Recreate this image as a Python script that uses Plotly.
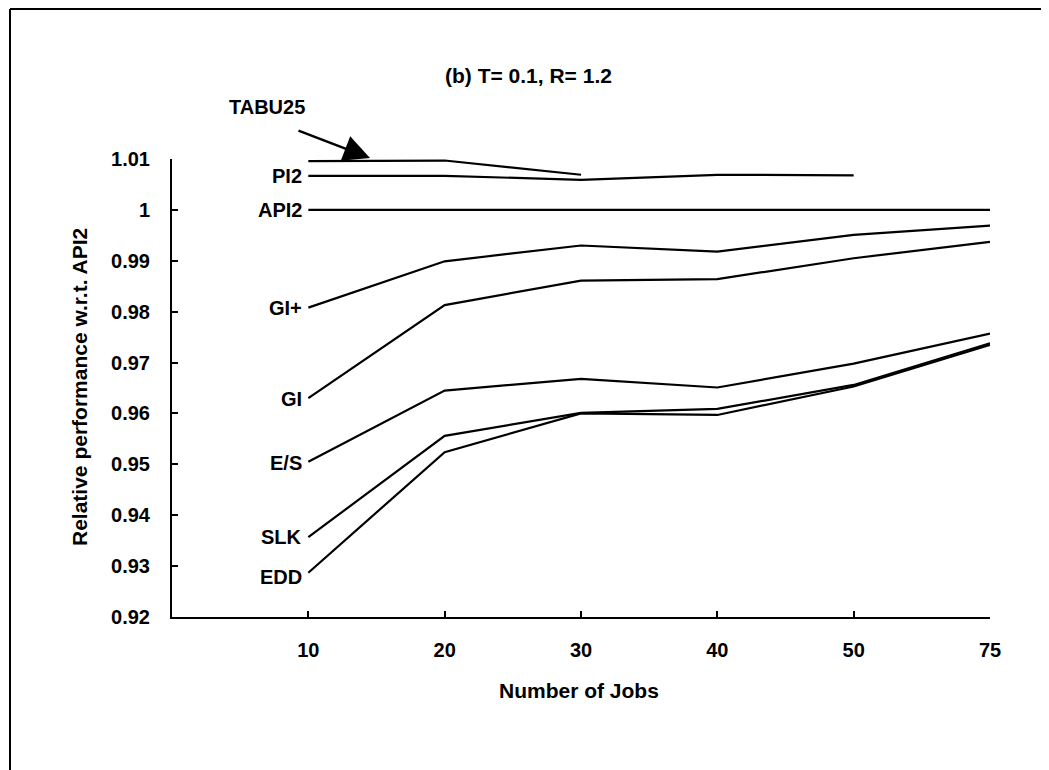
import plotly.graph_objects as go

jobs = ["10", "20", "30", "40", "50", "75"]

tabu25 = [1.0096, 1.0097, 1.0069]
pi2 = [1.0067, 1.0067, 1.0059, 1.0069, 1.0068]
api2 = [1.0, 1.0, 1.0, 1.0, 1.0, 1.0]
gi_plus = [0.9808, 0.9899, 0.9930, 0.9918, 0.9951, 0.9969]
gi = [0.9630, 0.9813, 0.9861, 0.9864, 0.9905, 0.9937]
e_s = [0.9505, 0.9645, 0.9668, 0.9651, 0.9698, 0.9757]
slk = [0.9357, 0.9556, 0.9601, 0.9609, 0.9656, 0.9738]
edd = [0.9287, 0.9524, 0.9600, 0.9597, 0.9653, 0.9735]

series = [
    ("TABU25", tabu25),
    ("PI2", pi2),
    ("API2", api2),
    ("GI+", gi_plus),
    ("GI", gi),
    ("E/S", e_s),
    ("SLK", slk),
    ("EDD", edd),
]

# label positions (y value of the label centre)
label_y = {"PI2": 1.0067, "API2": 1.0, "GI+": 0.9807, "GI": 0.9628,
           "E/S": 0.9502, "SLK": 0.9357, "EDD": 0.9278}

FONT = "Liberation Sans, Arial, sans-serif"

fig = go.Figure()
for name, vals in series:
    fig.add_trace(go.Scatter(
        x=jobs[:len(vals)], y=vals, mode="lines", name=name,
        line=dict(color="black", width=2.2), showlegend=False,
    ))

OFF = 8  # page body margin
W, H = 1049 - OFF, 770 - OFF
L, R, T, B = 172 - OFF, 59, 159 - OFF, 153
pw, ph = W - L - R, H - T - B


def px_to_paper(px, py):
    fx, fy = px - OFF, py - OFF
    return (fx - L) / pw, (H - B - fy) / ph


annotations = []
for name, yv in label_y.items():
    annotations.append(dict(
        x=-0.03, y=yv, xref="x", yref="y", text=name,
        showarrow=False, xanchor="right", yanchor="middle",
        font=dict(family=FONT, size=20, color="black", weight="bold"),
    ))

# TABU25 label and arrow
lx, ly = px_to_paper(267, 107)
annotations.append(dict(
    x=lx, y=ly, xref="paper", yref="paper", text="TABU25",
    showarrow=False, xanchor="center", yanchor="middle",
    font=dict(family=FONT, size=20, color="black", weight="bold"),
))
hx, hy = px_to_paper(370, 158)
annotations.append(dict(
    x=hx, y=hy, xref="paper", yref="paper", ax=-73, ay=-28,
    text="", showarrow=True,
    arrowhead=2, arrowsize=2.1, arrowwidth=2.5, arrowcolor="black",
))

# title
tx, ty = px_to_paper(528, 76)
annotations.append(dict(
    x=tx, y=ty, xref="paper", yref="paper", text="(b) T= 0.1, R= 1.2",
    showarrow=False, xanchor="center", yanchor="middle",
    font=dict(family=FONT, size=21, color="black", weight="bold"),
))
# x-axis title
xx, xy = px_to_paper(579, 690)
annotations.append(dict(
    x=xx, y=xy, xref="paper", yref="paper", text="Number of Jobs",
    showarrow=False, xanchor="center", yanchor="middle",
    font=dict(family=FONT, size=21, color="black", weight="bold"),
))
# y-axis title
yx, yy = px_to_paper(79, 387)
annotations.append(dict(
    x=yx, y=yy, xref="paper", yref="paper",
    text="Relative performance w.r.t. API2", textangle=-90,
    showarrow=False, xanchor="center", yanchor="middle",
    font=dict(family=FONT, size=21, color="black", weight="bold"),
))

# frame lines (top and left only)
x0, y0 = px_to_paper(10, 9)
x1, _ = px_to_paper(1049, 9)
_, yb = px_to_paper(10, 770)
shapes = [
    dict(type="line", xref="paper", yref="paper", x0=x0, y0=y0, x1=x1, y1=y0,
         line=dict(color="black", width=2)),
    dict(type="line", xref="paper", yref="paper", x0=x0, y0=y0, x1=x0, y1=yb,
         line=dict(color="black", width=2)),
]

tickfont = dict(family=FONT, size=20, color="black", weight="bold")

fig.update_layout(
    width=W, height=H,
    margin=dict(l=L, r=R, t=T, b=B, pad=0),
    paper_bgcolor="white", plot_bgcolor="white",
    annotations=annotations, shapes=shapes,
    font=dict(family=FONT, size=20, color="black"),
    xaxis=dict(
        type="category", categoryorder="array", categoryarray=jobs,
        range=[-1, 5], showgrid=False, zeroline=False,
        showline=True, linecolor="black", linewidth=2,
        ticks="inside", ticklen=6, tickwidth=1.5, tickcolor="black",
        tickfont=tickfont, ticklabelstandoff=14,
    ),
    yaxis=dict(
        range=[0.92, 1.01], tickvals=[0.92, 0.93, 0.94, 0.95, 0.96, 0.97, 0.98, 0.99, 1.0, 1.01],
        ticktext=["0.92", "0.93", "0.94", "0.95", "0.96", "0.97", "0.98", "0.99", "1", "1.01"],
        showgrid=False, zeroline=False,
        showline=True, linecolor="black", linewidth=2,
        ticks="inside", ticklen=6, tickwidth=1.5, tickcolor="black",
        tickfont=tickfont, ticklabelstandoff=16,
    ),
)

fig.write_html("out.html")
